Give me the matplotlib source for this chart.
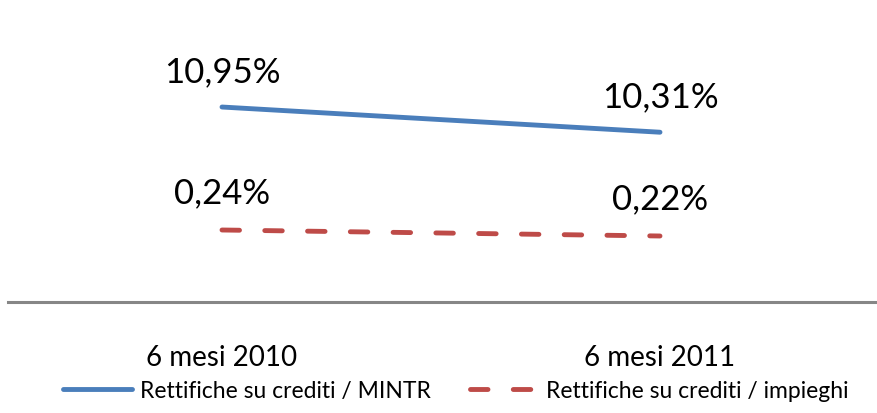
import matplotlib.pyplot as plt

plt.rcParams['font.family'] = ['Lato', 'DejaVu Sans']

categorie = ['6 mesi 2010', '6 mesi 2011']
mintr = [10.95, 10.31]
impieghi = [0.24, 0.22]
nomi = ['Rettifiche su crediti / MINTR', 'Rettifiche su crediti / impieghi']


def fmt(v):
    return ('%.2f%%' % v).replace('.', ',')


fig = plt.figure(figsize=(8.77, 4.14), dpi=100)
ax = fig.add_axes([8 / 877, 1 - 303 / 414, 1 - 8 / 877, 293 / 414])
ax2 = ax.twinx()

x = list(range(len(categorie)))
l1, = ax.plot(x, mintr, color='#4A7EBB', lw=3.5, solid_capstyle='round', label=nomi[0])
l2, = ax2.plot(x, impieghi, color='#BE4B48', lw=3.5, dashes=(3.6, 5.2),
               dash_capstyle='round', label=nomi[1])

ax.set_ylim(6, 6 + 293 / 39.39)
ax2.set_ylim(0, 293 / 300)
ax.set_xlim(-214 / 438, 1 + 217 / 438)

for xi, v in zip(x, mintr):
    ax.annotate(fmt(v), (xi, v), xytext=(0, 26), textcoords='offset points',
                ha='center', va='center', fontsize=25)
for xi, v in zip(x, impieghi):
    ax2.annotate(fmt(v), (xi, v), xytext=(0, 27), textcoords='offset points',
                 ha='center', va='center', fontsize=25)

for a in (ax, ax2):
    for s in ('top', 'left', 'right'):
        a.spines[s].set_visible(False)
    a.set_yticks([])
ax2.spines['bottom'].set_visible(False)
ax.spines['bottom'].set_color('#868686')
ax.spines['bottom'].set_linewidth(2.2)

ax.set_xticks(x)
ax.set_xticklabels(categorie, fontsize=20)
ax.tick_params(axis='x', length=0, pad=30)

fig.legend(handles=[l1, l2], loc='center', bbox_to_anchor=(0.52, 1 - 392 / 414),
           ncol=2, frameon=False, fontsize=16.5, handlelength=3.0,
           handletextpad=0.35, columnspacing=1.7, borderpad=0)

fig.savefig('out.png', dpi=100)
